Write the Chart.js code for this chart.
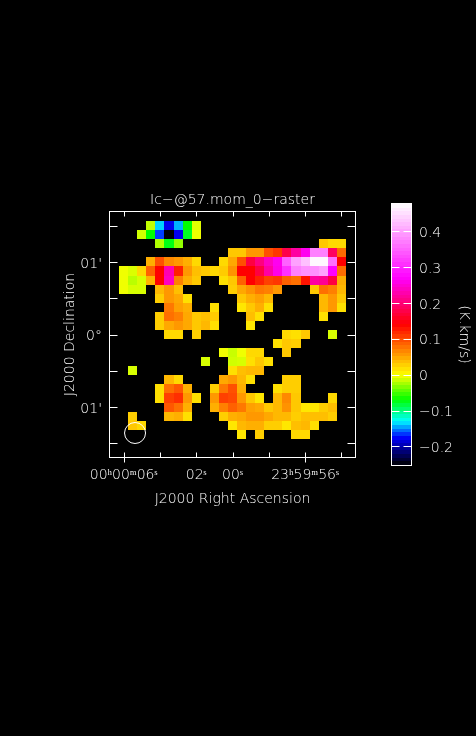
<!DOCTYPE html>
<html>
<head>
<meta charset="utf-8">
<title>Ic-@57.mom_0-raster</title>
<script src="https://cdn.jsdelivr.net/npm/chart.js@4"></script>
<style>
  html, body { margin: 0; padding: 0; background: #000; }
  #wrap { position: relative; width: 476px; height: 736px; background: #000; overflow: hidden; }
  canvas { position: absolute; left: 0; top: 0; }
</style>
</head>
<body>
<div id="wrap">
  <canvas id="raster" width="476" height="736"></canvas>
  <canvas id="colorbar" width="476" height="736"></canvas>
</div>
<script>
// pixel centres of the map, right ascension in seconds from 00h00m00s, declination in arcmin
const raCentres = [6.5, 6, 5.5, 5, 4.5, 4, 3.5, 3, 2.5, 2, 1.5, 1, 0.5, 0, -0.5, -1, -1.5, -2, -2.5, -3, -3.5, -4, -4.5, -5, -5.5, -6, -6.5];
const decCentres = [1.625, 1.5, 1.375, 1.25, 1.125, 1, 0.875, 0.75, 0.625, 0.5, 0.375, 0.25, 0.125, 0, -0.125, -0.25, -0.375, -0.5, -0.625, -0.75, -0.875, -1, -1.125, -1.25, -1.375, -1.5, -1.625];

// K.km/s, one object per row (column index: value)
const moment0 = [
  {},
  {4: -0.017, 5: -0.138, 6: -0.18, 7: -0.144, 8: -0.07, 9: -0.008},
  {3: -0.013, 4: -0.07, 5: -0.164, 6: -0.25, 7: -0.18, 8: -0.078, 9: -0.004},
  {5: -0.022, 6: -0.075, 7: -0.03, 23: 0.03, 24: 0.021, 25: 0.021},
  {13: 0.03, 14: 0.03, 15: 0.0565, 16: 0.0565, 17: 0.096, 18: 0.11, 19: 0.178, 20: 0.222, 21: 0.262, 22: 0.373, 23: 0.373, 24: 0.189, 25: 0.082},
  {4: 0.044, 5: 0.096, 6: 0.065, 7: 0.0565, 8: 0.044, 9: 0.021, 12: 0.021, 13: 0.048, 14: 0.096, 15: 0.173, 16: 0.205, 17: 0.238, 18: 0.262, 19: 0.348, 20: 0.4, 21: 0.425, 22: 0.47, 23: 0.47, 24: 0.36, 25: 0.14},
  {1: -0.004, 2: -0.01, 3: 0.021, 4: 0.087, 5: 0.14, 6: 0.23, 7: 0.122, 8: 0.0565, 9: 0.035, 10: 0.03, 11: 0.021, 12: 0.028, 13: 0.06, 14: 0.14, 15: 0.14, 16: 0.173, 17: 0.222, 18: 0.258, 19: 0.309, 20: 0.373, 21: 0.386, 22: 0.386, 23: 0.4, 24: 0.27, 25: 0.08},
  {1: -0.004, 2: -0.019, 3: -0.011, 4: 0.042, 5: 0.14, 6: 0.238, 7: 0.07, 8: 0.044, 9: 0.03, 12: 0.017, 13: 0.03, 14: 0.087, 15: 0.14, 16: 0.122, 17: 0.105, 18: 0.11, 19: 0.087, 20: 0.0785, 21: 0.13, 22: 0.222, 23: 0.215, 24: 0.173, 25: 0.044},
  {1: -0.004, 2: -0.011, 3: -0.011, 5: 0.039, 6: 0.0565, 7: 0.035, 13: 0.027, 14: 0.048, 15: 0.06, 16: 0.074, 17: 0.07, 18: 0.0565, 22: 0.03, 23: 0.0785, 24: 0.07, 25: 0.039},
  {5: 0.027, 6: 0.0565, 7: 0.048, 8: 0.017, 14: 0.03, 15: 0.044, 16: 0.052, 17: 0.039, 23: 0.039, 24: 0.0565, 25: 0.03},
  {6: 0.074, 7: 0.052, 8: 0.044, 11: 0.017, 14: 0.013, 15: 0.03, 16: 0.044, 17: 0.017, 23: 0.039, 24: 0.0565, 25: 0.017},
  {5: 0.027, 6: 0.0785, 7: 0.07, 8: 0.048, 9: 0.03, 10: 0.035, 11: 0.028, 15: 0.035, 16: 0.017, 23: 0.017},
  {5: 0.027, 6: 0.048, 7: 0.0565, 8: 0.048, 9: 0.03, 10: 0.039, 11: 0.017, 15: 0.013},
  {6: 0.021, 7: 0.021, 9: 0.027, 19: 0.021, 20: 0.017, 21: 0.03, 24: -0.011},
  {18: 0.017, 19: 0.03, 20: 0.027},
  {12: -0.004, 13: -0.015, 14: -0.004, 15: 0.021, 16: 0.021, 19: 0.03},
  {10: -0.011, 13: -0.013, 14: -0.011, 15: 0.017, 16: 0.03, 17: 0.017},
  {2: -0.011, 13: 0.017, 14: 0.035, 15: 0.039, 16: 0.039},
  {6: 0.039, 7: 0.021, 12: 0.048, 13: 0.0565, 14: 0.039, 15: 0.017, 19: 0.027, 20: 0.027},
  {5: 0.017, 6: 0.0785, 7: 0.092, 8: 0.044, 11: 0.027, 12: 0.074, 13: 0.096, 14: 0.044, 18: 0.017, 19: 0.027, 20: 0.027},
  {5: 0.017, 6: 0.105, 7: 0.114, 8: 0.0565, 9: 0.017, 11: 0.0565, 12: 0.105, 13: 0.1, 14: 0.0565, 15: 0.03, 16: 0.013, 18: 0.039, 19: 0.065, 20: 0.03, 24: 0.021},
  {6: 0.092, 7: 0.0785, 8: 0.044, 11: 0.044, 12: 0.07, 13: 0.087, 14: 0.074, 15: 0.052, 16: 0.048, 17: 0.03, 18: 0.039, 19: 0.06, 20: 0.03, 21: 0.013, 22: 0.013, 23: 0.027, 24: 0.035},
  {2: 0.027, 6: 0.039, 7: 0.044, 8: 0.017, 12: 0.027, 13: 0.044, 14: 0.048, 15: 0.0565, 16: 0.0565, 17: 0.048, 18: 0.039, 19: 0.039, 20: 0.027, 21: 0.035, 22: 0.035, 23: 0.035, 24: 0.027},
  {2: 0.03, 3: 0.021, 13: 0.013, 14: 0.039, 15: 0.044, 16: 0.044, 17: 0.027, 18: 0.027, 19: 0.013, 20: 0.035, 21: 0.039, 22: 0.017},
  {14: 0.013, 16: 0.027, 20: 0.021, 21: 0.021},
  {},
  {}
];

// axis ticks
const raTicks = [6, 4, 2, 0, -2, -4, -6];
const raLabels = {6: "00ʰ00ᵐ06ˢ", 2: "02ˢ", 0: "00ˢ", "-4": "23ʰ59ᵐ56ˢ"};
const raLongTicks = [6, -4];
const decTicks = [1.5, 1, 0.5, 0, -0.5, -1, -1.5];
const decLabels = {1: "01'", 0: "0°", "-1": "01'"};
const colorbarTicks = [0.4, 0.3, 0.2, 0.1, 0, -0.1, -0.2];

// colour map
const cmapValues = [-0.252, -0.213, -0.175, -0.13, -0.07, 0, 0.14, 0.27, 0.476];
const cmapColors = [[0, 0, 0], [0, 0, 128], [0, 0, 255], [0, 255, 255], [0, 255, 0], [255, 255, 0], [255, 0, 0], [255, 0, 255], [255, 255, 255]];
const cmapSteps = 72;

// beam, centre in RA s and Dec arcmin
const beam = [{x: 5.37, y: -1.357}];

const FONT = "'DejaVu Sans'";
const TEXT_WEIGHT = 200;
const pxHalfDec = 0.0625;

function colorAt(v) {
  let i = 0;
  while (i < cmapValues.length - 2 && v > cmapValues[i + 1]) i++;
  let t = (v - cmapValues[i]) / (cmapValues[i + 1] - cmapValues[i]);
  t = Math.max(0, Math.min(1, t));
  const c = cmapColors[i].map((a, k) => Math.round(a + (cmapColors[i + 1][k] - a) * t));
  return `rgb(${c[0]},${c[1]},${c[2]})`;
}

const cells = [];
const cellColors = [];
moment0.forEach((row, r) => {
  Object.keys(row).forEach((c) => {
    const dec = decCentres[r];
    cells.push({x: raCentres[c], y: [dec - pxHalfDec, dec + pxHalfDec]});
    cellColors.push(colorAt(row[c]));
  });
});

// snap the cells to whole pixels so no seams show
const snapBars = {
  id: "snapBars",
  afterDatasetsUpdate(chart) {
    chart.data.datasets.forEach((ds, i) => {
      if (ds.type !== "bar") return;
      chart.getDatasetMeta(i).data.forEach((el) => {
        const l = Math.round(el.x - el.width / 2);
        const r = Math.round(el.x + el.width / 2);
        el.x = (l + r) / 2;
        el.width = r - l;
        el.y = Math.round(el.y);
        el.base = Math.round(el.base);
      });
    });
  }
};

// PGPLOT style frame with inward ticks
const frameTicks = {
  id: "frameTicks",
  afterDraw(chart, args, opts) {
    const {ctx, chartArea: a, scales} = chart;
    const L = a.left - 0.5, R = a.right + 0.5, T = a.top - 0.5, B = a.bottom + 0.5;
    ctx.save();
    ctx.strokeStyle = "#fff";
    ctx.lineWidth = 1;
    ctx.strokeRect(L, T, R - L, B - T);
    ctx.beginPath();
    (opts.xTicks || []).forEach((v) => {
      const x = Math.round(scales.x.getPixelForValue(v)) + 0.5;
      ctx.moveTo(x, T);
      ctx.lineTo(x, T + opts.xLen);
      ctx.moveTo(x, B - opts.xLen);
      ctx.lineTo(x, raLongTicks.includes(v) ? B + opts.xLen : B);
    });
    (opts.yTicks || []).forEach((v) => {
      const y = Math.round(scales.y.getPixelForValue(v)) + 0.5;
      ctx.moveTo(L, y);
      ctx.lineTo(L + opts.yLen, y);
      ctx.moveTo(R - opts.yLen, y);
      ctx.lineTo(R, y);
    });
    ctx.stroke();
    ctx.restore();
  }
};

new Chart(document.getElementById("raster"), {
  data: {
    datasets: [
      {
        type: "scatter",
        data: beam,
        order: 0,
        pointRadius: 10.5,
        pointBorderColor: "#fff",
        pointBorderWidth: 1,
        pointBackgroundColor: "rgba(0,0,0,0)",
        showLine: false
      },
      {
        type: "bar",
        data: cells,
        order: 1,
        backgroundColor: cellColors,
        borderWidth: 0,
        inflateAmount: 0,
        barPercentage: 1,
        categoryPercentage: 1
      }
    ]
  },
  options: {
    responsive: false,
    animation: false,
    events: [],
    layout: {padding: {left: 58, right: 121, top: 192, bottom: 225}},
    plugins: {
      legend: {display: false},
      tooltip: {enabled: false},
      title: {
        display: true,
        fullSize: false,
        text: "Ic−@57.mom_0−raster",
        color: "#fff",
        font: {family: FONT, size: 14, weight: TEXT_WEIGHT, lineHeight: "16px"},
        padding: {top: 0, bottom: 4}
      },
      frameTicks: {xTicks: raTicks, yTicks: decTicks, xLen: 5, yLen: 8}
    },
    scales: {
      x: {
        type: "linear",
        reverse: true,
        min: -6.75,
        max: 6.75,
        offset: false,
        grid: {display: false, drawTicks: false},
        border: {display: false},
        afterBuildTicks(scale) { scale.ticks = raTicks.map((v) => ({value: v})); },
        afterFit(scale) { scale.height = 54; },
        ticks: {
          autoSkip: false,
          maxRotation: 0,
          color: "#fff",
          padding: 10,
          font: {family: FONT, size: 14, weight: TEXT_WEIGHT},
          callback(v) { return raLabels[v] || ""; }
        },
        title: {
          display: true,
          text: "J2000 Right Ascension",
          color: "#fff",
          font: {family: FONT, size: 14, weight: TEXT_WEIGHT},
          padding: {top: 4, bottom: 3}
        }
      },
      y: {
        type: "linear",
        min: -1.6875,
        max: 1.6875,
        grid: {display: false, drawTicks: false},
        border: {display: false},
        afterBuildTicks(scale) { scale.ticks = decTicks.map((v) => ({value: v})); },
        afterFit(scale) { scale.width = 52; },
        ticks: {
          autoSkip: false,
          color: "#fff",
          padding: 8,
          labelOffset: 2,
          font: {family: FONT, size: 14, weight: TEXT_WEIGHT},
          callback(v) { return decLabels[v] || ""; }
        },
        title: {
          display: true,
          text: "J2000 Declination",
          color: "#fff",
          font: {family: FONT, size: 14, weight: TEXT_WEIGHT},
          padding: {top: 4, bottom: 4}
        }
      }
    }
  },
  plugins: [snapBars, frameTicks]
});

// stepped gradient following the value scale of the bar
function colorbarFill(context) {
  const {chart} = context;
  if (!chart.chartArea) return "#000";
  const y = chart.scales.y;
  const top = y.getPixelForValue(y.max);
  const bottom = y.getPixelForValue(y.min);
  const g = chart.ctx.createLinearGradient(0, top, 0, bottom);
  for (let i = 0; i < cmapSteps; i++) {
    const v = y.max - (y.max - y.min) * (i + 0.5) / cmapSteps;
    const col = colorAt(v);
    g.addColorStop(i / cmapSteps, col);
    g.addColorStop((i + 1) / cmapSteps, col);
  }
  return g;
}

new Chart(document.getElementById("colorbar"), {
  type: "bar",
  data: {
    labels: [""],
    datasets: [{
      data: [[-0.252, 0.476]],
      backgroundColor: colorbarFill,
      borderWidth: 0,
      inflateAmount: 0,
      barPercentage: 1,
      categoryPercentage: 1
    }]
  },
  options: {
    responsive: false,
    animation: false,
    events: [],
    layout: {padding: {left: 392, right: 0, top: 204, bottom: 271}},
    plugins: {
      legend: {display: false},
      tooltip: {enabled: false},
      frameTicks: {yTicks: colorbarTicks, yLen: 8}
    },
    scales: {
      x: {
        display: false
      },
      y: {
        type: "linear",
        position: "right",
        min: -0.252,
        max: 0.476,
        grid: {display: false, drawTicks: false},
        border: {display: false},
        afterBuildTicks(scale) { scale.ticks = colorbarTicks.map((v) => ({value: v})); },
        afterFit(scale) { scale.width = 65; },
        ticks: {
          color: "#fff",
          padding: 8,
          labelOffset: 2,
          font: {family: FONT, size: 14, weight: TEXT_WEIGHT},
          callback(v) { return v < 0 ? "−" + Math.abs(v) : String(v); }
        },
        title: {
          display: true,
          text: "(K.km/s)",
          color: "#fff",
          font: {family: FONT, size: 14, weight: TEXT_WEIGHT},
          padding: {top: 4, bottom: 4}
        }
      }
    }
  },
  plugins: [frameTicks]
});
</script>
</body>
</html>
